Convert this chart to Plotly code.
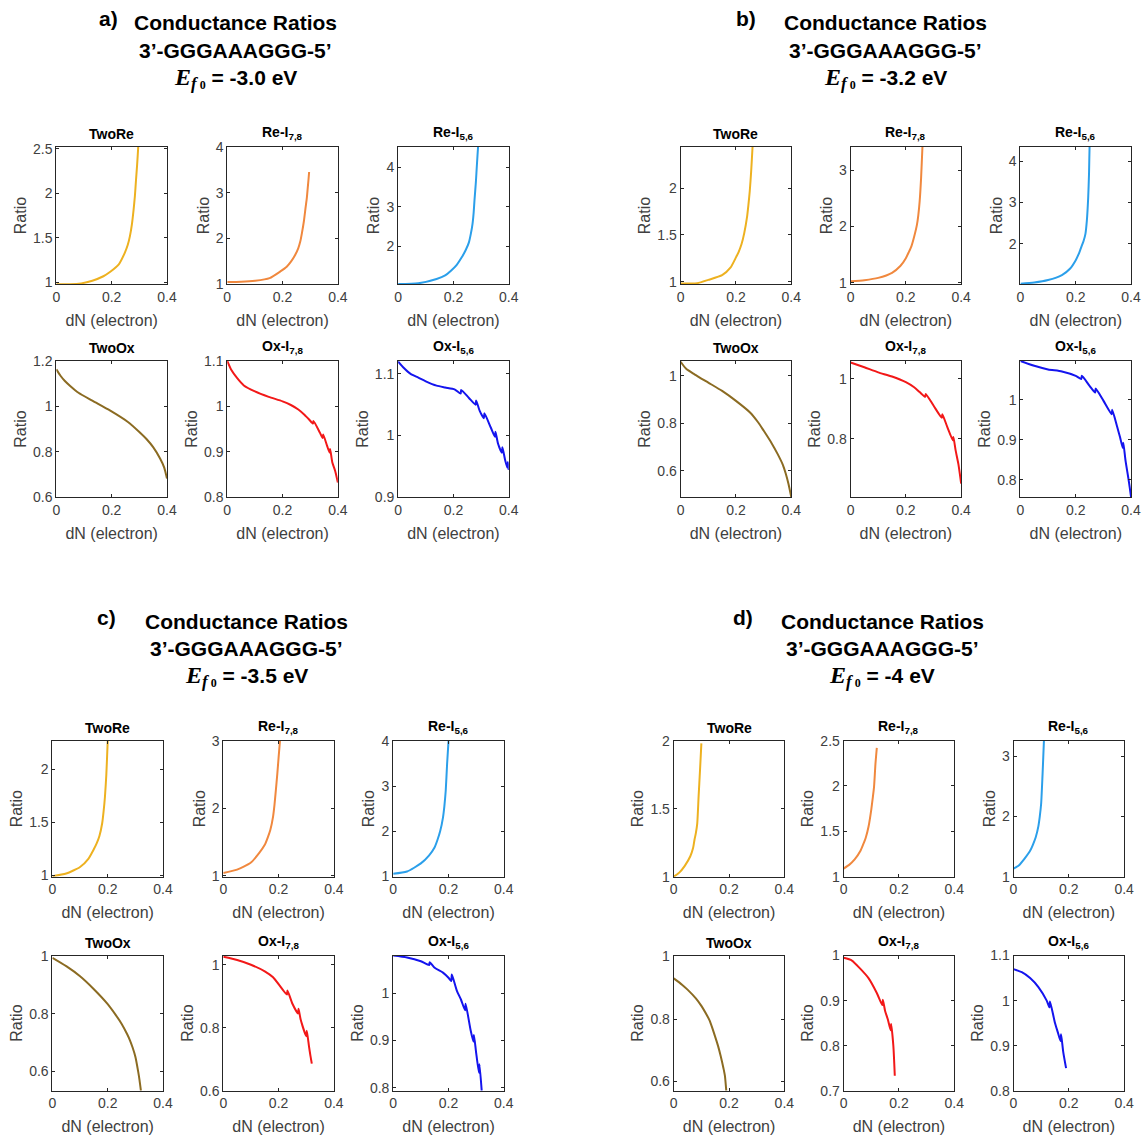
import plotly.graph_objects as go

W, H = 1146, 1145

# ---------------- text / labels ----------------
PANEL_KEYS = ["a", "b", "c", "d"]
PANEL_LETTERS = ["a)", "b)", "c)", "d)"]
EF0_LABELS = ["-3.0", "-3.2", "-3.5", "-4"]
HEADER_LINE1 = "Conductance Ratios"
SEQ_LABEL = "3’-GGGAAAGGG-5’"
SUBPLOT_TITLES = ["TwoRe", "Re-I<sub>7,8</sub>", "Re-I<sub>5,6</sub>",
                  "TwoOx", "Ox-I<sub>7,8</sub>", "Ox-I<sub>5,6</sub>"]
SERIES_COLORS = ["#EDB120", "#F0883E", "#2B9FEA", "#8B6B22", "#F21818", "#1414EE"]
X_TICKS = [0, 0.2, 0.4]
X_TICKTEXT = ["0", "0.2", "0.4"]
X_LABEL = "dN (electron)"
Y_LABEL = "Ratio"

# ---------------- data: panel a (Ef0 = -3.0 eV) ----------------
A_TWORE_X = [0, 0.05, 0.09, 0.13, 0.17, 0.195, 0.225, 0.247, 0.258, 0.266, 0.273, 0.279, 0.284, 0.288, 0.292, 0.296, 0.30]
A_TWORE_Y = [0.98, 0.98, 0.99, 1.02, 1.07, 1.12, 1.20, 1.33, 1.42, 1.52, 1.65, 1.81, 1.97, 2.15, 2.32, 2.52, 2.75]
A_RE78_X = [0, 0.05, 0.101, 0.153, 0.192, 0.215, 0.231, 0.245, 0.257, 0.264, 0.270, 0.277, 0.283, 0.288, 0.291, 0.294, 0.296]
A_RE78_Y = [1.044, 1.05, 1.073, 1.131, 1.277, 1.38, 1.496, 1.63, 1.788, 1.93, 2.117, 2.37, 2.664, 2.90, 3.102, 3.30, 3.453]
A_RE56_X = [0, 0.073, 0.139, 0.170, 0.191, 0.212, 0.230, 0.244, 0.256, 0.263, 0.269, 0.273, 0.276, 0.281, 0.285, 0.289, 0.292]
A_RE56_Y = [1.04, 1.06, 1.17, 1.26, 1.38, 1.53, 1.72, 1.90, 2.10, 2.32, 2.57, 2.85, 3.16, 3.62, 4.09, 4.52, 4.80]
A_TWOOX_X = [0, 0.015, 0.03, 0.05, 0.08, 0.13, 0.195, 0.26, 0.30, 0.325, 0.35, 0.375, 0.39, 0.40]
A_TWOOX_Y = [1.163, 1.135, 1.113, 1.09, 1.06, 1.025, 0.981, 0.930, 0.887, 0.857, 0.820, 0.770, 0.730, 0.682]
A_OX78_X = [0, 0.015, 0.036, 0.06, 0.10, 0.15, 0.20, 0.23, 0.257, 0.28, 0.296, 0.31, 0.312, 0.335, 0.345, 0.347, 0.361, 0.37, 0.372, 0.38, 0.39, 0.40]
A_OX78_Y = [1.10, 1.08, 1.062, 1.046, 1.033, 1.021, 1.011, 1.003, 0.993, 0.981, 0.971, 0.962, 0.968, 0.942, 0.930, 0.938, 0.913, 0.898, 0.906, 0.876, 0.858, 0.832]
A_OX56_X = [0, 0.02, 0.045, 0.073, 0.10, 0.139, 0.17, 0.204, 0.226, 0.228, 0.256, 0.28, 0.282, 0.295, 0.31, 0.312, 0.335, 0.35, 0.352, 0.361, 0.375, 0.377, 0.387, 0.395, 0.397, 0.40]
A_OX56_Y = [1.12, 1.11, 1.10, 1.094, 1.088, 1.081, 1.078, 1.075, 1.068, 1.074, 1.061, 1.05, 1.057, 1.040, 1.028, 1.036, 1.013, 0.998, 1.006, 0.987, 0.972, 0.981, 0.960, 0.948, 0.957, 0.944]

# ---------------- data: panel b (Ef0 = -3.2 eV) ----------------
B_TWORE_X = [0, 0.06, 0.10, 0.15, 0.18, 0.20, 0.21, 0.22, 0.23, 0.24, 0.245, 0.25, 0.255, 0.26, 0.265]
B_TWORE_Y = [0.98, 0.985, 1.02, 1.07, 1.15, 1.26, 1.32, 1.40, 1.52, 1.69, 1.82, 1.97, 2.18, 2.44, 2.70]
B_RE78_X = [0, 0.05, 0.10, 0.15, 0.18, 0.20, 0.21, 0.22, 0.23, 0.24, 0.245, 0.25, 0.255, 0.26, 0.264]
B_RE78_Y = [1.03, 1.05, 1.09, 1.18, 1.30, 1.44, 1.54, 1.65, 1.82, 2.03, 2.20, 2.45, 2.85, 3.41, 3.80]
B_RE56_X = [0, 0.05, 0.10, 0.15, 0.18, 0.20, 0.21, 0.22, 0.228, 0.235, 0.24, 0.245, 0.248, 0.25, 0.253]
B_RE56_Y = [1.03, 1.06, 1.12, 1.24, 1.40, 1.60, 1.74, 1.92, 2.06, 2.24, 2.55, 3.12, 3.70, 4.35, 4.80]
B_TWOOX_X = [0, 0.02, 0.05, 0.10, 0.15, 0.20, 0.25, 0.28, 0.30, 0.33, 0.35, 0.37, 0.38, 0.39, 0.40]
B_TWOOX_Y = [1.06, 1.03, 1.007, 0.972, 0.937, 0.895, 0.847, 0.805, 0.770, 0.715, 0.673, 0.625, 0.589, 0.545, 0.490]
B_OX78_X = [0, 0.05, 0.10, 0.15, 0.20, 0.23, 0.25, 0.27, 0.272, 0.30, 0.33, 0.332, 0.35, 0.37, 0.372, 0.38, 0.39, 0.40]
B_OX78_Y = [1.055, 1.039, 1.022, 1.008, 0.989, 0.972, 0.956, 0.940, 0.950, 0.911, 0.870, 0.882, 0.839, 0.795, 0.806, 0.761, 0.715, 0.650]
B_OX56_X = [0, 0.05, 0.10, 0.15, 0.20, 0.22, 0.222, 0.25, 0.27, 0.272, 0.30, 0.33, 0.332, 0.35, 0.36, 0.37, 0.372, 0.38, 0.39, 0.395, 0.40]
B_OX56_Y = [1.097, 1.085, 1.076, 1.071, 1.060, 1.052, 1.060, 1.035, 1.018, 1.028, 0.998, 0.964, 0.975, 0.932, 0.907, 0.880, 0.893, 0.848, 0.805, 0.782, 0.757]

# ---------------- data: panel c (Ef0 = -3.5 eV) ----------------
C_TWORE_X = [0, 0.05, 0.10, 0.13, 0.15, 0.16, 0.17, 0.18, 0.185, 0.19, 0.195, 0.20, 0.203]
C_TWORE_Y = [0.99, 1.015, 1.077, 1.154, 1.246, 1.30, 1.37, 1.49, 1.60, 1.74, 1.95, 2.27, 2.50]
C_RE78_X = [0, 0.05, 0.10, 0.13, 0.15, 0.16, 0.17, 0.18, 0.185, 0.19, 0.195, 0.20, 0.205]
C_RE78_Y = [1.04, 1.09, 1.195, 1.34, 1.46, 1.56, 1.68, 1.88, 2.05, 2.27, 2.50, 2.76, 3.01]
C_RE56_X = [0, 0.05, 0.10, 0.13, 0.15, 0.16, 0.17, 0.18, 0.185, 0.19, 0.195, 0.20]
C_RE56_Y = [1.05, 1.10, 1.28, 1.46, 1.64, 1.80, 2.00, 2.30, 2.55, 2.90, 3.50, 4.00]
C_TWOOX_X = [0, 0.05, 0.10, 0.15, 0.20, 0.23, 0.25, 0.27, 0.28, 0.29, 0.30, 0.31, 0.315, 0.32]
C_TWOOX_Y = [0.995, 0.966, 0.931, 0.886, 0.834, 0.795, 0.766, 0.730, 0.709, 0.683, 0.651, 0.600, 0.570, 0.533]
C_OX78_X = [0, 0.05, 0.10, 0.15, 0.18, 0.20, 0.23, 0.232, 0.25, 0.27, 0.272, 0.28, 0.30, 0.302, 0.31, 0.315, 0.32]
C_OX78_Y = [1.025, 1.015, 1.000, 0.979, 0.960, 0.938, 0.905, 0.918, 0.876, 0.845, 0.860, 0.825, 0.773, 0.790, 0.740, 0.711, 0.686]
C_OX56_X = [0, 0.05, 0.10, 0.13, 0.132, 0.15, 0.18, 0.20, 0.21, 0.212, 0.23, 0.245, 0.26, 0.262, 0.28, 0.29, 0.292, 0.30, 0.31, 0.312, 0.32]
C_OX56_Y = [1.08, 1.076, 1.068, 1.060, 1.066, 1.054, 1.044, 1.033, 1.026, 1.040, 1.006, 0.987, 0.964, 0.978, 0.922, 0.898, 0.912, 0.874, 0.832, 0.850, 0.794]

# ---------------- data: panel d (Ef0 = -4 eV) ----------------
D_TWORE_X = [0, 0.02, 0.04, 0.06, 0.07, 0.075, 0.08, 0.085, 0.09, 0.095, 0.10]
D_TWORE_Y = [1.00, 1.03, 1.08, 1.15, 1.21, 1.27, 1.32, 1.39, 1.59, 1.78, 1.98]
D_RE78_X = [0, 0.02, 0.04, 0.06, 0.07, 0.08, 0.09, 0.10, 0.105, 0.11, 0.115, 0.12]
D_RE78_Y = [1.09, 1.13, 1.19, 1.28, 1.35, 1.43, 1.55, 1.74, 1.86, 1.99, 2.24, 2.42]
D_RE56_X = [0, 0.02, 0.04, 0.06, 0.07, 0.08, 0.09, 0.095, 0.10, 0.105, 0.11, 0.112]
D_RE56_Y = [1.135, 1.19, 1.30, 1.43, 1.53, 1.65, 1.84, 2.00, 2.22, 2.70, 3.26, 3.50]
D_TWOOX_X = [0, 0.03, 0.05, 0.08, 0.10, 0.12, 0.13, 0.14, 0.15, 0.16, 0.17, 0.18, 0.185, 0.19]
D_TWOOX_Y = [0.93, 0.91, 0.894, 0.866, 0.842, 0.812, 0.795, 0.770, 0.743, 0.715, 0.681, 0.642, 0.619, 0.571]
D_OX78_X = [0, 0.03, 0.06, 0.09, 0.12, 0.14, 0.142, 0.15, 0.16, 0.17, 0.172, 0.18, 0.185]
D_OX78_Y = [0.995, 0.989, 0.971, 0.950, 0.917, 0.890, 0.902, 0.877, 0.858, 0.834, 0.848, 0.798, 0.733]
D_OX56_X = [0, 0.03, 0.06, 0.09, 0.12, 0.13, 0.132, 0.15, 0.16, 0.17, 0.172, 0.18, 0.19]
D_OX56_Y = [1.07, 1.063, 1.050, 1.030, 1.000, 0.985, 0.998, 0.950, 0.930, 0.910, 0.925, 0.885, 0.850]

PANEL_SERIES = {
    "a": [(A_TWORE_X, A_TWORE_Y), (A_RE78_X, A_RE78_Y), (A_RE56_X, A_RE56_Y),
          (A_TWOOX_X, A_TWOOX_Y), (A_OX78_X, A_OX78_Y), (A_OX56_X, A_OX56_Y)],
    "b": [(B_TWORE_X, B_TWORE_Y), (B_RE78_X, B_RE78_Y), (B_RE56_X, B_RE56_Y),
          (B_TWOOX_X, B_TWOOX_Y), (B_OX78_X, B_OX78_Y), (B_OX56_X, B_OX56_Y)],
    "c": [(C_TWORE_X, C_TWORE_Y), (C_RE78_X, C_RE78_Y), (C_RE56_X, C_RE56_Y),
          (C_TWOOX_X, C_TWOOX_Y), (C_OX78_X, C_OX78_Y), (C_OX56_X, C_OX56_Y)],
    "d": [(D_TWORE_X, D_TWORE_Y), (D_RE78_X, D_RE78_Y), (D_RE56_X, D_RE56_Y),
          (D_TWOOX_X, D_TWOOX_Y), (D_OX78_X, D_OX78_Y), (D_OX56_X, D_OX56_Y)],
}

Y_TICKS = {
    "a": [[1, 1.5, 2, 2.5], [1, 2, 3, 4], [2, 3, 4], [0.6, 0.8, 1, 1.2], [0.8, 0.9, 1, 1.1], [0.9, 1, 1.1]],
    "b": [[1, 1.5, 2], [1, 2, 3], [2, 3, 4], [0.6, 0.8, 1], [0.6, 0.8, 1], [0.8, 0.9, 1]],
    "c": [[1, 1.5, 2], [1, 2, 3], [1, 2, 3, 4], [0.6, 0.8, 1], [0.6, 0.8, 1], [0.8, 0.9, 1]],
    "d": [[1, 1.5, 2], [1, 1.5, 2, 2.5], [1, 2, 3], [0.6, 0.8, 1], [0.7, 0.8, 0.9, 1], [0.8, 0.9, 1, 1.1]],
}
Y_RANGES = {
    "a": [[0.982, 2.52], [1.0, 4.0], [1.04, 4.52], [0.6, 1.2], [0.8, 1.1], [0.9, 1.121]],
    "b": [[0.975, 2.44], [0.98, 3.41], [1.02, 4.35], [0.49, 1.063], [0.605, 1.06], [0.757, 1.097]],
    "c": [[0.985, 2.27], [0.985, 3.01], [0.985, 4.01], [0.533, 1.003], [0.6, 1.029], [0.794, 1.08]],
    "d": [[1.0, 2.0], [1.0, 2.5], [1.0, 3.26], [0.571, 1.003], [0.7, 1.0], [0.8, 1.1]],
}

# ---------------- layout geometry (pixels) ----------------
BOX_W = 112
PANEL_COLS = {"a": [53, 226, 399], "b": [685, 857, 1029], "c": [49, 222, 394], "d": [678, 850, 1022]}
PANEL_ROWS = {"a": [(141, 280), (358, 496)], "b": [(141, 280), (358, 496)],
              "c": [(743, 881), (961, 1098)], "d": [(743, 881), (961, 1098)]}
# letter x, text center x, first line y
PANEL_HEADER = {"a": (106, 234, 15), "b": (751, 892, 15), "c": (104, 246, 622), "d": (748, 889, 622)}
LINE_GAP = 28

FONT = "Liberation Sans, Arial, sans-serif"
AX_COL = "#262626"
TICK_COL = "#404040"

fig = go.Figure()
annotations = []
layout_axes = {}

idx = 0
for p, key in enumerate(PANEL_KEYS):
    for k in range(6):
        idx += 1
        r, c = divmod(k, 3)
        x0 = PANEL_COLS[key][c]
        x1 = x0 + BOX_W
        y0, y1 = PANEL_ROWS[key][r]
        xs, ys = PANEL_SERIES[key][k]
        fig.add_trace(go.Scatter(
            x=xs, y=ys, mode="lines",
            line=dict(color=SERIES_COLORS[k], width=2, shape="spline", smoothing=0.6),
            xaxis=f"x{idx}", yaxis=f"y{idx}", showlegend=False, hoverinfo="skip"))
        common = dict(showline=True, mirror="ticks", linecolor=AX_COL, linewidth=1,
                      ticks="inside", ticklen=3, tickcolor=AX_COL, tickwidth=1,
                      showgrid=False, zeroline=False,
                      tickfont=dict(family=FONT, size=14, color=TICK_COL))
        layout_axes[f"xaxis{idx}"] = dict(
            domain=[x0 / W, x1 / W], anchor=f"y{idx}", range=[0, 0.4],
            tickmode="array", tickvals=X_TICKS, ticktext=X_TICKTEXT,
            title=dict(text=X_LABEL, font=dict(family=FONT, size=16, color=TICK_COL), standoff=10),
            **common)
        layout_axes[f"yaxis{idx}"] = dict(
            domain=[1 - y1 / H, 1 - y0 / H], anchor=f"x{idx}", range=Y_RANGES[key][k],
            tickmode="array", tickvals=Y_TICKS[key][k],
            title=dict(text=Y_LABEL, font=dict(family=FONT, size=16, color=TICK_COL), standoff=2),
            **common)
        annotations.append(dict(
            text="<b>" + SUBPLOT_TITLES[k] + "</b>", xref="paper", yref="paper",
            x=(x0 + x1) / 2 / W, y=1 - (y0 - 3) / H, xanchor="center", yanchor="bottom",
            showarrow=False, font=dict(family=FONT, size=14, color="#000000")))

    lx, cx, ly = PANEL_HEADER[key]
    annotations.append(dict(text="<b>" + PANEL_LETTERS[p] + "</b>", xref="paper", yref="paper",
                            x=lx / W, y=1 - (ly - 4) / H, xanchor="center", yanchor="middle",
                            showarrow=False, font=dict(family=FONT, size=21, color="#000000")))
    annotations.append(dict(text="<b>" + HEADER_LINE1 + "</b>", xref="paper", yref="paper",
                            x=cx / W, y=1 - ly / H, xanchor="center", yanchor="middle",
                            showarrow=False, font=dict(family=FONT, size=21, color="#000000")))
    annotations.append(dict(text="<b>" + SEQ_LABEL + "</b>", xref="paper", yref="paper",
                            x=cx / W, y=1 - (ly + LINE_GAP) / H, xanchor="center", yanchor="middle",
                            showarrow=False, font=dict(family=FONT, size=21, color="#000000")))
    ef_text = ("<span style='font-family:Liberation Serif;font-size:24px'><b><i>E</i></b></span>"
               "<sub><span style='font-family:Liberation Serif;font-size:17px'><b><i>f</i></b></span>"
               "<span style='font-family:Liberation Serif;font-size:12px'><b> 0</b></span></sub>"
               "<b> = " + EF0_LABELS[p] + " eV</b>")
    annotations.append(dict(text=ef_text, xref="paper", yref="paper",
                            x=cx / W, y=1 - (ly + 2 * LINE_GAP) / H, xanchor="center", yanchor="middle",
                            showarrow=False, font=dict(family=FONT, size=21, color="#000000")))

fig.update_layout(
    width=W, height=H, margin=dict(l=0, r=0, t=0, b=0),
    paper_bgcolor="white", plot_bgcolor="white",
    annotations=annotations, showlegend=False, **layout_axes)

fig.write_html("out.html")
